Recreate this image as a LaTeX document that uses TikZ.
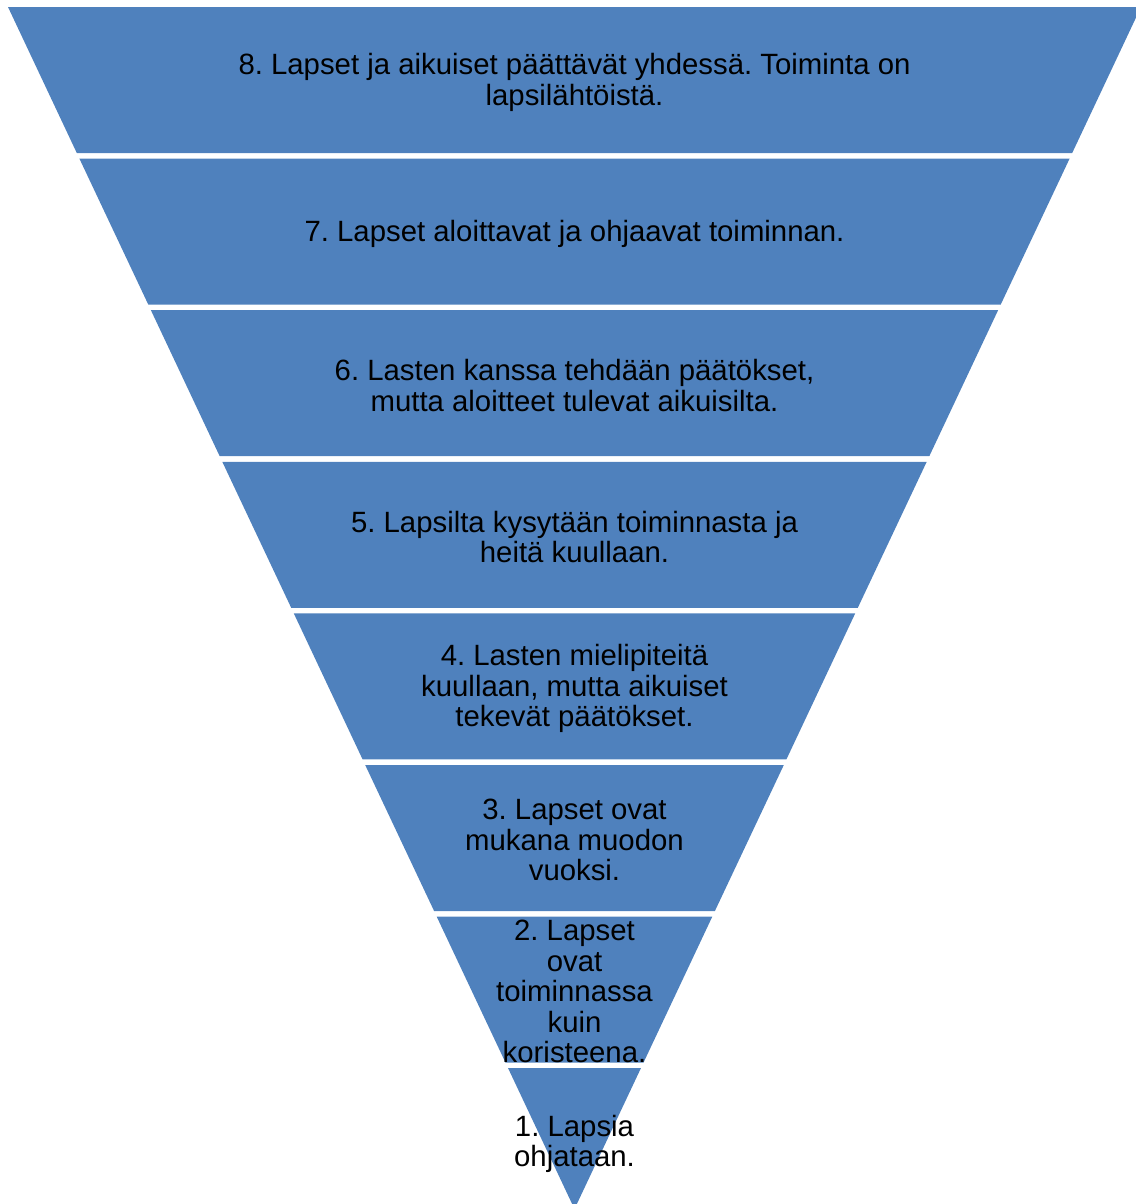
\documentclass[tikz,border=0pt]{standalone}
\usepackage{fontspec}
\setmainfont{Liberation Sans}
\usepackage{tikz}

\definecolor{stepblue}{HTML}{4F81BD}

\tikzset{
  band/.style={fill=stepblue},
  bandtext/.style={align=center, text=black, font=\fontsize{16.7pt}{17.3pt}\selectfont\frenchspacing}
}

\begin{document}
\begin{tikzpicture}[x=0.02cm, y=-0.02cm]
		\useasboundingbox (0,0) rectangle (1136,1204);
		\clip (0,0) rectangle (1136,1204);

		% the eight bands, top to bottom
		\fill[band] (8,7) -- (1141,7) -- (1072.2,153) -- (76.8,153) -- cycle;
		\fill[band] (79.4,158.6) -- (1069.6,158.6) -- (1000.7,304.6) -- (148.3,304.6) -- cycle;
		\fill[band] (150.9,310.2) -- (998.1,310.2) -- (929.3,456.2) -- (219.7,456.2) -- cycle;
		\fill[band] (222.3,461.8) -- (926.7,461.8) -- (857.8,607.8) -- (291.2,607.8) -- cycle;
		\fill[band] (293.8,613.4) -- (855.2,613.4) -- (786.4,759.4) -- (362.6,759.4) -- cycle;
		\fill[band] (365.2,765) -- (783.8,765) -- (714.9,911) -- (434.1,911) -- cycle;
		\fill[band] (436.7,916.6) -- (712.3,916.6) -- (643.5,1062.6) -- (505.5,1062.6) -- cycle;
		\fill[band] (508.1,1068.2) -- (640.9,1068.2) -- (574.5,1209) -- cycle;

		\node[bandtext] (l8) at (574.5,82.5) {8. Lapset ja aikuiset päättävät yhdessä. Toiminta on\\lapsilähtöistä.};
		\node[bandtext] (l7) at (574.5,234) {7. Lapset aloittavat ja ohjaavat toiminnan.};
		\node[bandtext] (l6) at (574.5,385.5) {6. Lasten kanssa tehdään päätökset,\\mutta aloitteet tulevat aikuisilta.};
		\node[bandtext] (l5) at (574.5,537) {5. Lapsilta kysytään toiminnasta ja\\heitä kuullaan.};
		\node[bandtext] (l4) at (574.5,688.5) {4. Lasten mielipiteitä\\kuullaan, mutta aikuiset\\tekevät päätökset.};
		\node[bandtext] (l3) at (574.5,840) {3. Lapset ovat\\mukana muodon\\vuoksi.};
		\node[bandtext] (l2) at (574.5,991.5) {2. Lapset\\ovat\\toiminnassa\\kuin\\koristeena.};
		\node[bandtext] (l1) at (574.5,1144) {1. Lapsia\\ohjataan.};

	\end{tikzpicture}
\end{document}
